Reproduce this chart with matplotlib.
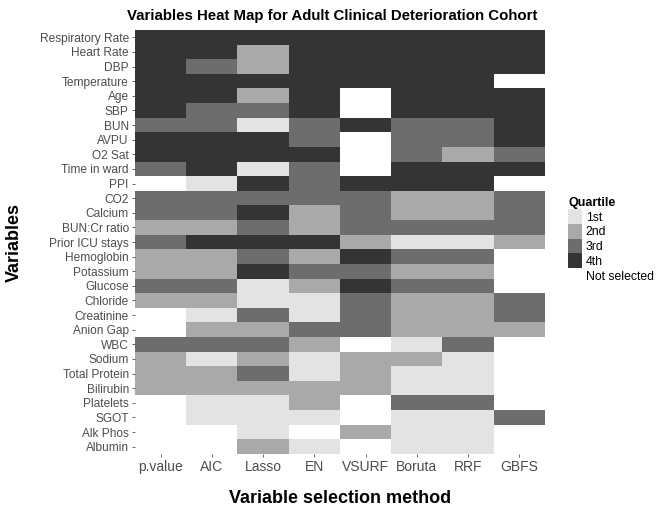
import matplotlib
matplotlib.use('Agg')
import matplotlib.pyplot as plt
import numpy as np
from matplotlib.colors import ListedColormap
from matplotlib.patches import Patch

plt.rcParams['font.family'] = ['Liberation Sans', 'DejaVu Sans']

# Variables (top to bottom) and selection methods (left to right)
variables = ['Respiratory Rate', 'Heart Rate', 'DBP', 'Temperature', 'Age', 'SBP',
             'BUN', 'AVPU', 'O2 Sat', 'Time in ward', 'PPI', 'CO2', 'Calcium',
             'BUN:Cr ratio', 'Prior ICU stays', 'Hemoglobin', 'Potassium', 'Glucose',
             'Chloride', 'Creatinine', 'Anion Gap', 'WBC', 'Sodium', 'Total Protein',
             'Bilirubin', 'Platelets', 'SGOT', 'Alk Phos', 'Albumin']
methods = ['p.value', 'AIC', 'Lasso', 'EN', 'VSURF', 'Boruta', 'RRF', 'GBFS']

# Quartile per variable for each method (0 = not selected)
p_value = [4, 4, 4, 4, 4, 4, 3, 4, 4, 3, 0, 3, 3, 2, 3, 2, 2, 3, 2, 0, 0, 3, 2, 2, 2, 0, 0, 0, 0]
aic     = [4, 4, 3, 4, 4, 3, 3, 4, 4, 4, 1, 3, 3, 2, 4, 2, 2, 3, 2, 1, 2, 3, 1, 2, 2, 1, 1, 0, 0]
lasso   = [4, 2, 2, 4, 2, 3, 1, 4, 4, 1, 4, 3, 4, 3, 4, 3, 4, 1, 1, 3, 2, 3, 2, 3, 2, 1, 1, 1, 2]
en      = [4, 4, 4, 4, 4, 4, 3, 3, 4, 3, 3, 3, 2, 2, 4, 2, 3, 2, 1, 1, 3, 2, 1, 1, 2, 2, 1, 0, 1]
vsurf   = [4, 4, 4, 4, 0, 0, 4, 0, 0, 0, 4, 3, 3, 3, 2, 4, 3, 4, 3, 3, 3, 0, 2, 2, 2, 0, 0, 2, 0]
boruta  = [4, 4, 4, 4, 4, 4, 3, 3, 3, 4, 4, 2, 2, 3, 1, 3, 2, 3, 2, 2, 2, 1, 2, 1, 1, 3, 1, 1, 1]
rrf     = [4, 4, 4, 4, 4, 4, 3, 3, 2, 4, 4, 2, 2, 3, 1, 3, 2, 3, 2, 2, 2, 3, 1, 1, 1, 3, 1, 1, 1]
gbfs    = [4, 4, 4, 0, 4, 4, 4, 4, 3, 4, 0, 3, 3, 3, 2, 0, 0, 0, 3, 3, 2, 0, 0, 0, 0, 0, 3, 0, 0]

legend_labels = ['1st', '2nd', '3rd', '4th', 'Not selected']
colors = ['#ffffff', '#e3e3e3', '#a9a9a9', '#6d6d6d', '#343434']  # not selected, 1st..4th

grid = np.array([p_value, aic, lasso, en, vsurf, boruta, rrf, gbfs]).T

fig = plt.figure(figsize=(6.56, 5.18), dpi=100)
ax = fig.add_axes([135 / 656, 1 - 454 / 518, 410 / 656, 424 / 518])

cmap = ListedColormap(colors)
ax.imshow(grid, cmap=cmap, vmin=-0.5, vmax=4.5, aspect='auto', interpolation='nearest')

ax.set_xticks(range(len(methods)))
ax.set_xticklabels(methods, fontsize=10, color='#4d4d4d')
ax.set_yticks(range(len(variables)))
ax.set_yticklabels(variables, fontsize=8.6, color='#4d4d4d')
ax.tick_params(length=2.5, width=0.6, color='#4d4d4d', pad=2)
for s in ax.spines.values():
    s.set_visible(False)

ax.set_xlabel('Variable selection method', fontsize=13, fontweight='bold', labelpad=11)
ax.set_ylabel('Variables', fontsize=13, fontweight='bold', labelpad=12)
fig.text(0.507, 0.97, 'Variables Heat Map for Adult Clinical Deterioration Cohort',
         ha='center', va='center', fontsize=10.8, fontweight='bold')

# legend: 1st..4th then Not selected (white key)
handles = [Patch(facecolor=colors[i], edgecolor='none') for i in [1, 2, 3, 4, 0]]
leg = fig.legend(handles, legend_labels, loc='center left', bbox_to_anchor=(562 / 656, 1 - 240 / 518),
                 frameon=False, fontsize=8.8, title='Quartile',
                 title_fontproperties={'weight': 'bold', 'size': 9},
                 handlelength=1.15, handleheight=1.48, labelspacing=0, handletextpad=0.3,
                 borderpad=0, alignment='left')

plt.savefig('out.png', dpi=100)
